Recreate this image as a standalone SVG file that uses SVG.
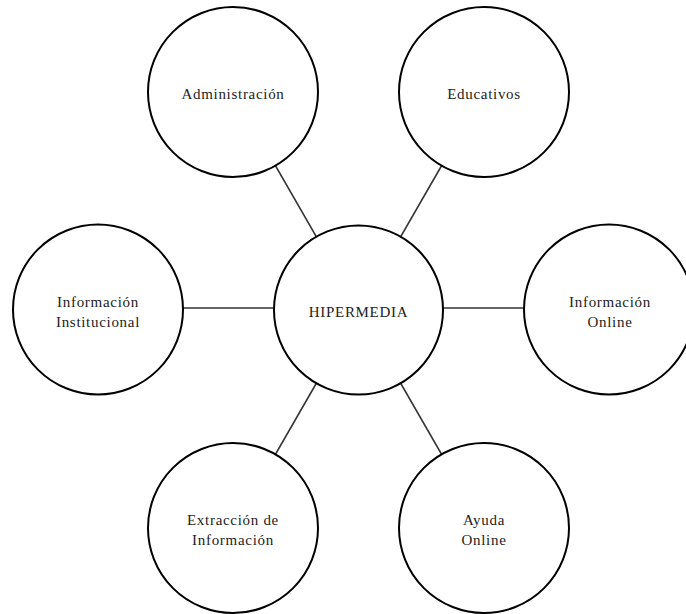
<svg xmlns="http://www.w3.org/2000/svg" width="686" height="614" viewBox="0 0 686 614">
  <style>
    .link { stroke: #333; stroke-width: 1.6; fill: none; }
    .node circle { fill: #fff; stroke: #000; stroke-width: 2; }
    .node text { font-family: "Liberation Serif", "Times New Roman", serif; font-size: 15px; letter-spacing: 0.7px; fill: #222; text-anchor: middle; }
  </style>
  <rect width="686" height="614" fill="#fff"/>

  <!-- spokes from the hub to each topic -->
  <g id="connectors">
    <line class="link" x1="358.5" y1="310" x2="233" y2="92"/>
    <line class="link" x1="358.5" y1="310" x2="484" y2="92"/>
    <line class="link" x1="358.5" y1="308" x2="98" y2="308"/>
    <line class="link" x1="358.5" y1="308" x2="609" y2="308"/>
    <line class="link" x1="358.5" y1="310" x2="233" y2="528"/>
    <line class="link" x1="358.5" y1="310" x2="484" y2="528"/>
  </g>

  <g id="hipermedia" class="node">
    <circle cx="358.5" cy="310" r="84.5"/>
    <text x="358.5" y="317">HIPERMEDIA</text>
  </g>

  <g id="administracion" class="node">
    <circle cx="233" cy="92" r="85"/>
    <text x="233" y="99">Administración</text>
  </g>

  <g id="educativos" class="node">
    <circle cx="484" cy="92" r="85"/>
    <text x="484" y="99">Educativos</text>
  </g>

  <g id="informacion-institucional" class="node">
    <circle cx="98" cy="309.5" r="85"/>
    <text x="98" y="307">Información</text>
    <text x="98" y="327">Institucional</text>
  </g>

  <g id="informacion-online" class="node">
    <circle cx="609" cy="309.5" r="85"/>
    <text x="610" y="307">Información</text>
    <text x="610" y="327">Online</text>
  </g>

  <g id="extraccion" class="node">
    <circle cx="233" cy="528" r="85"/>
    <text x="233" y="525">Extracción de</text>
    <text x="233" y="545">Información</text>
  </g>

  <g id="ayuda-online" class="node">
    <circle cx="484" cy="528" r="85"/>
    <text x="484" y="525">Ayuda</text>
    <text x="484" y="545">Online</text>
  </g>
</svg>
